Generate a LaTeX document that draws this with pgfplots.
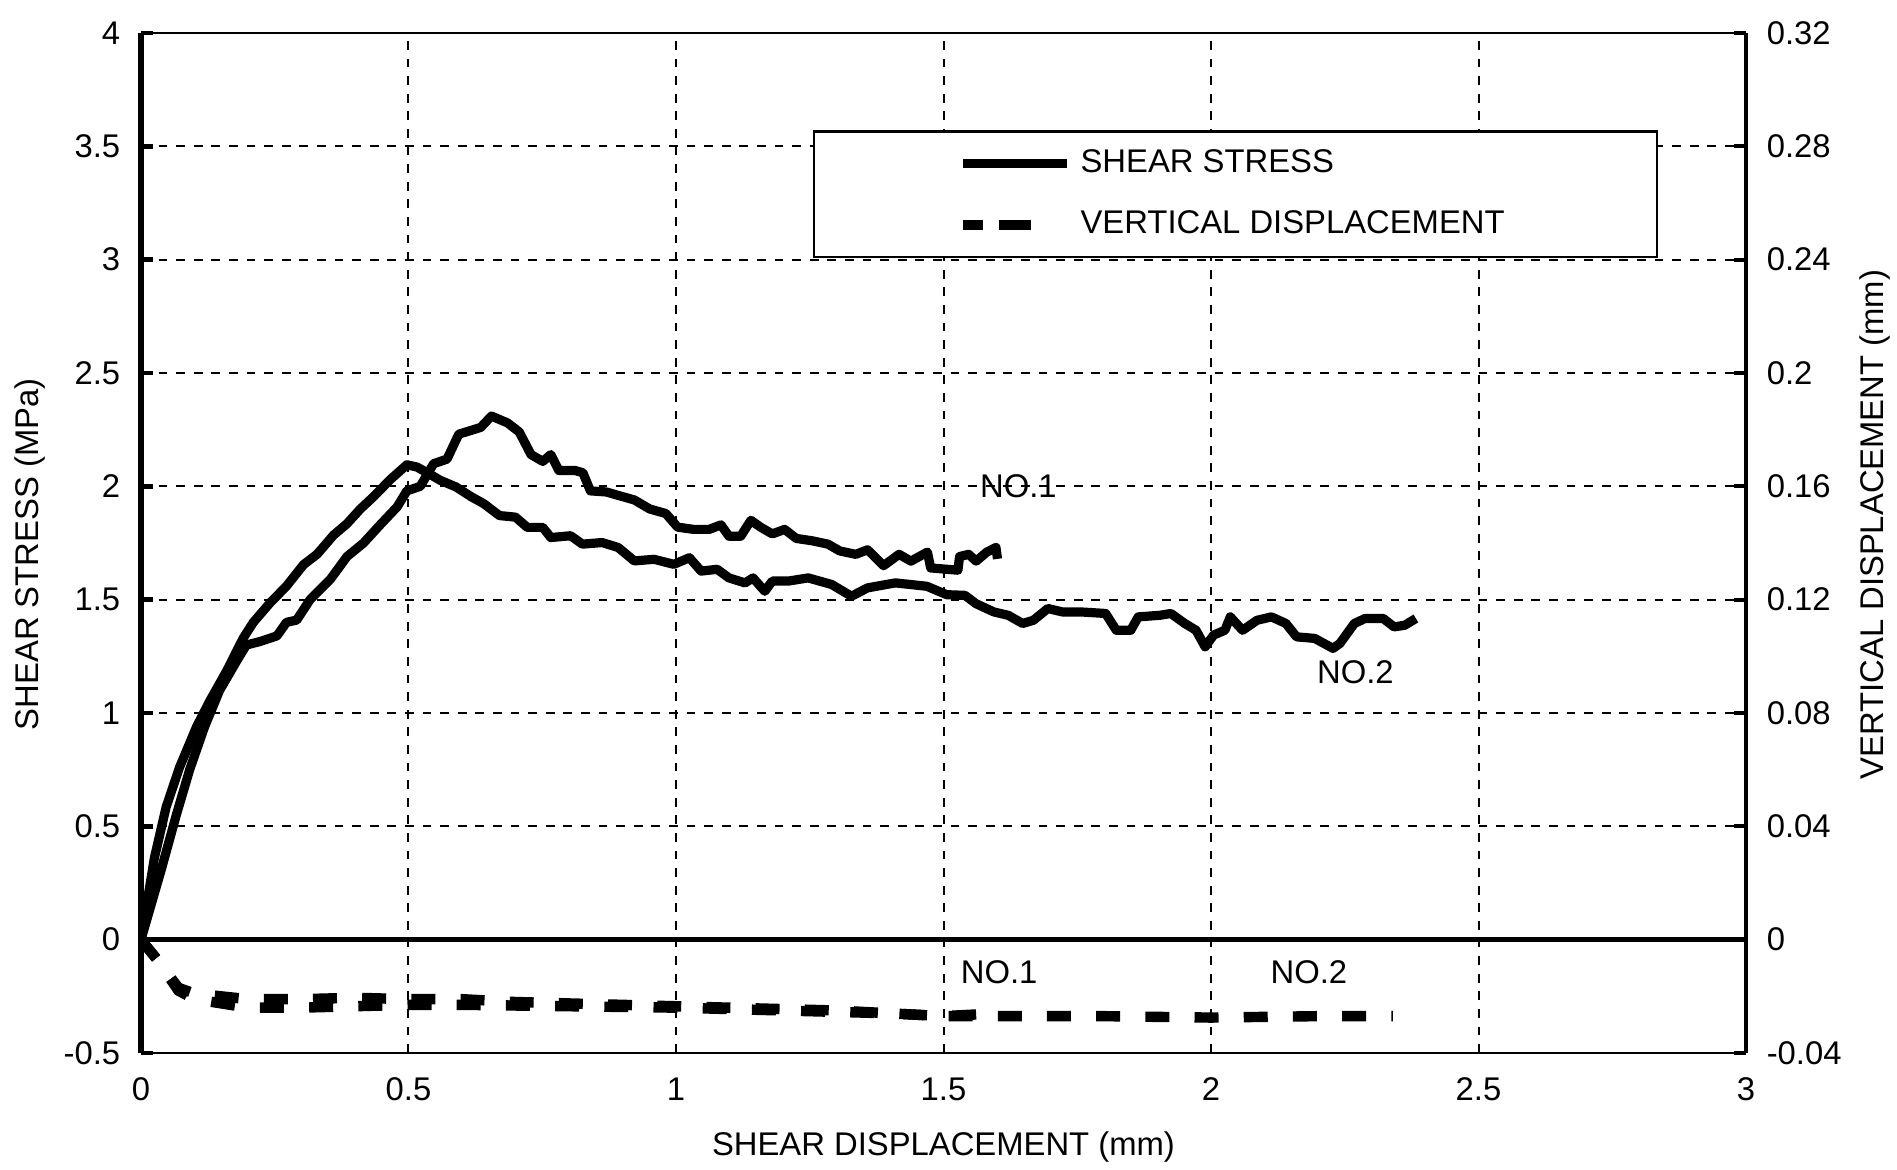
\documentclass[border=0pt]{standalone}
\usepackage{fontspec}
\setmainfont{Liberation Sans}
\usepackage{pgfplots}
\pgfplotsset{compat=1.18}
\newcommand{\lblfont}{\fontsize{8.2}{9.8}\selectfont}
\begin{document}
\begin{tikzpicture}
\useasboundingbox (0,0) rectangle (474.25pt,292.25pt);
\begin{axis}[
  at={(35.25pt,29pt)}, anchor=south west,
  width=401.25pt, height=255pt, scale only axis,
  xmin=0, xmax=3, ymin=-0.5, ymax=4,
  axis x line*=box, axis y line*=left,
  x axis line style={line width=0.7pt},
  y axis line style={line width=1.7pt},
  xtick={0,0.5,1,1.5,2,2.5,3},
  xticklabels={0,0.5,1,1.5,2,2.5,3},
  ytick={-0.5,0,0.5,1,1.5,2,2.5,3,3.5,4},
  yticklabels={-0.5,0,0.5,1,1.5,2,2.5,3,3.5,4},
  xtick style={draw=none},
  ytick style={line width=1.2pt, black},
  major tick length=3pt, tick align=inside,
  grid=major,
  major grid style={black, line width=0.5pt, dash pattern=on 2.2pt off 2.2pt},
  extra y ticks={0}, extra y tick labels={},
  extra y tick style={grid=major, major grid style={solid, black, line width=1.1pt}, tick style={draw=none}},
  tick label style={font=\lblfont},
  yticklabel style={inner sep=0pt, xshift=-5pt},
  xticklabel style={inner sep=0pt, yshift=-6pt},
  /pgf/number format/assume math mode=true,
  xlabel={SHEAR DISPLACEMENT (mm)},
  ylabel={SHEAR STRESS (MPa)},
  label style={font=\lblfont},
  xlabel style={at={(axis description cs:0.5,-0.0926)}, anchor=center},
  ylabel style={at={(axis description cs:-0.0692,0.489)}, anchor=center, rotate=0},
  legend style={at={(0.4187,0.9047)}, anchor=north west, draw=black, line width=0.6pt,
    inner xsep=36pt, inner ysep=2.5pt, row sep=4pt, font=\lblfont, fill=white},
  legend cell align=left,
  legend image code/.code={\draw[#1] (2pt,0pt) -- (28pt,0pt);},
]
\addlegendimage{black, line width=2.3pt}
\addlegendentry{SHEAR STRESS}
\addlegendimage{black, line width=2.6pt, dash pattern=on 5pt off 4pt on 8pt off 20pt}
\addlegendentry{VERTICAL DISPLACEMENT}

% NO.1 shear stress
\addplot[forget plot, black, line width=2.3pt, line join=round] coordinates {
(0,0) (0.038,0.31) (0.066,0.55) (0.091,0.75) (0.119,0.94) (0.147,1.10)
(0.179,1.23) (0.197,1.30) (0.222,1.315) (0.254,1.34) (0.272,1.40) (0.291,1.41)
(0.316,1.50) (0.354,1.59) (0.385,1.69) (0.416,1.75) (0.447,1.83) (0.479,1.91)
(0.497,1.98) (0.522,2.00) (0.547,2.10) (0.572,2.12) (0.594,2.23) (0.635,2.26)
(0.655,2.31) (0.685,2.28) (0.707,2.24) (0.729,2.14) (0.751,2.11) (0.766,2.14)
(0.781,2.07) (0.811,2.07) (0.826,2.06) (0.84,1.98) (0.87,1.975) (0.892,1.96)
(0.922,1.94) (0.951,1.90) (0.981,1.88) (1.003,1.82) (1.033,1.81) (1.062,1.81)
(1.084,1.83) (1.099,1.78) (1.121,1.78) (1.14,1.85) (1.158,1.82) (1.18,1.79)
(1.203,1.81) (1.225,1.77) (1.254,1.76) (1.284,1.745) (1.306,1.715) (1.336,1.70)
(1.358,1.72) (1.388,1.65) (1.417,1.70) (1.439,1.67) (1.47,1.71) (1.476,1.64)
(1.527,1.63) (1.53,1.69) (1.547,1.70) (1.561,1.67) (1.581,1.71) (1.598,1.73)
(1.601,1.68)
};
% NO.2 shear stress
\addplot[forget plot, black, line width=2.3pt, line join=round] coordinates {
(0,0) (0.025,0.36) (0.047,0.585) (0.072,0.76) (0.104,0.94) (0.129,1.055)
(0.16,1.185) (0.191,1.33) (0.21,1.40) (0.241,1.485) (0.272,1.56) (0.304,1.655)
(0.329,1.70) (0.36,1.785) (0.385,1.835) (0.41,1.90) (0.435,1.955) (0.466,2.03)
(0.497,2.095) (0.516,2.085) (0.535,2.06) (0.559,2.027) (0.589,1.997) (0.618,1.953)
(0.641,1.923) (0.67,1.871) (0.7,1.864) (0.722,1.819) (0.751,1.819) (0.766,1.774)
(0.803,1.782) (0.825,1.745) (0.862,1.752) (0.892,1.73) (0.922,1.671) (0.959,1.678)
(0.996,1.656) (1.025,1.685) (1.047,1.626) (1.077,1.634) (1.099,1.596) (1.129,1.574)
(1.144,1.596) (1.166,1.537) (1.18,1.582) (1.21,1.582) (1.247,1.596) (1.291,1.567)
(1.328,1.515) (1.358,1.552) (1.41,1.574) (1.469,1.559) (1.506,1.522) (1.54,1.519)
(1.561,1.482) (1.594,1.446) (1.621,1.431) (1.648,1.395) (1.668,1.409) (1.695,1.461)
(1.722,1.446) (1.756,1.446) (1.803,1.439) (1.823,1.365) (1.85,1.365) (1.864,1.424)
(1.904,1.431) (1.925,1.439) (1.951,1.395) (1.972,1.365) (1.989,1.292) (2.005,1.344)
(2.026,1.365) (2.036,1.424) (2.059,1.365) (2.086,1.409) (2.113,1.424) (2.14,1.395)
(2.16,1.336) (2.194,1.329) (2.228,1.285) (2.241,1.307) (2.268,1.395) (2.288,1.417)
(2.322,1.417) (2.342,1.38) (2.362,1.387) (2.383,1.417)
};
\node[font=\lblfont] at (axis cs:1.64,2.0) {NO.1};
\node[font=\lblfont] at (axis cs:2.27,1.18) {NO.2};
\node[font=\lblfont] at (axis cs:1.604,-0.145) {NO.1};
\node[font=\lblfont] at (axis cs:2.183,-0.145) {NO.2};
\end{axis}

\begin{axis}[
  at={(35.25pt,29pt)}, anchor=south west,
  width=401.25pt, height=255pt, scale only axis,
  xmin=0, xmax=3, ymin=-0.04, ymax=0.32,
  axis x line=none, axis y line*=right,
  y axis line style={line width=0.9pt},
  ytick={-0.04,0,0.04,0.08,0.12,0.16,0.2,0.24,0.28,0.32},
  yticklabels={-0.04,0,0.04,0.08,0.12,0.16,0.2,0.24,0.28,0.32},
  ytick style={line width=1pt, black},
  major tick length=3pt, tick align=inside,
  tick label style={font=\lblfont},
  yticklabel style={inner sep=0pt, xshift=5pt},
  /pgf/number format/assume math mode=true,
  ylabel={VERTICAL DISPLACEMENT (mm)},
  label style={font=\lblfont},
  ylabel style={at={(axis description cs:1.0804,0.518)}, anchor=center, rotate=0},
]
% NO.1 vertical displacement
\addplot[black, line width=2.6pt, dash pattern=on 6pt off 6.3pt] coordinates {
(0,0) (0.03,-0.007) (0.07,-0.017) (0.1,-0.019) (0.2,-0.021) (0.3,-0.021)
(0.4,-0.0205) (0.5,-0.021) (0.6,-0.021) (0.7,-0.022) (0.8,-0.0225) (0.9,-0.023)
(1.0,-0.0235) (1.1,-0.024) (1.2,-0.0245) (1.3,-0.025) (1.4,-0.026) (1.5,-0.027)
(1.6,-0.026)
};
% NO.2 vertical displacement
\addplot[black, line width=2.6pt, dash pattern=on 6pt off 6.3pt] coordinates {
(0,0) (0.03,-0.007) (0.07,-0.018) (0.1,-0.021) (0.2,-0.024) (0.3,-0.024)
(0.4,-0.0235) (0.5,-0.023) (0.6,-0.023) (0.8,-0.0235) (1.0,-0.024) (1.2,-0.025)
(1.4,-0.026) (1.5,-0.027) (1.6,-0.027) (1.8,-0.027) (2.0,-0.0275) (2.2,-0.027)
(2.34,-0.027)
};
\end{axis}
\end{tikzpicture}
\end{document}
